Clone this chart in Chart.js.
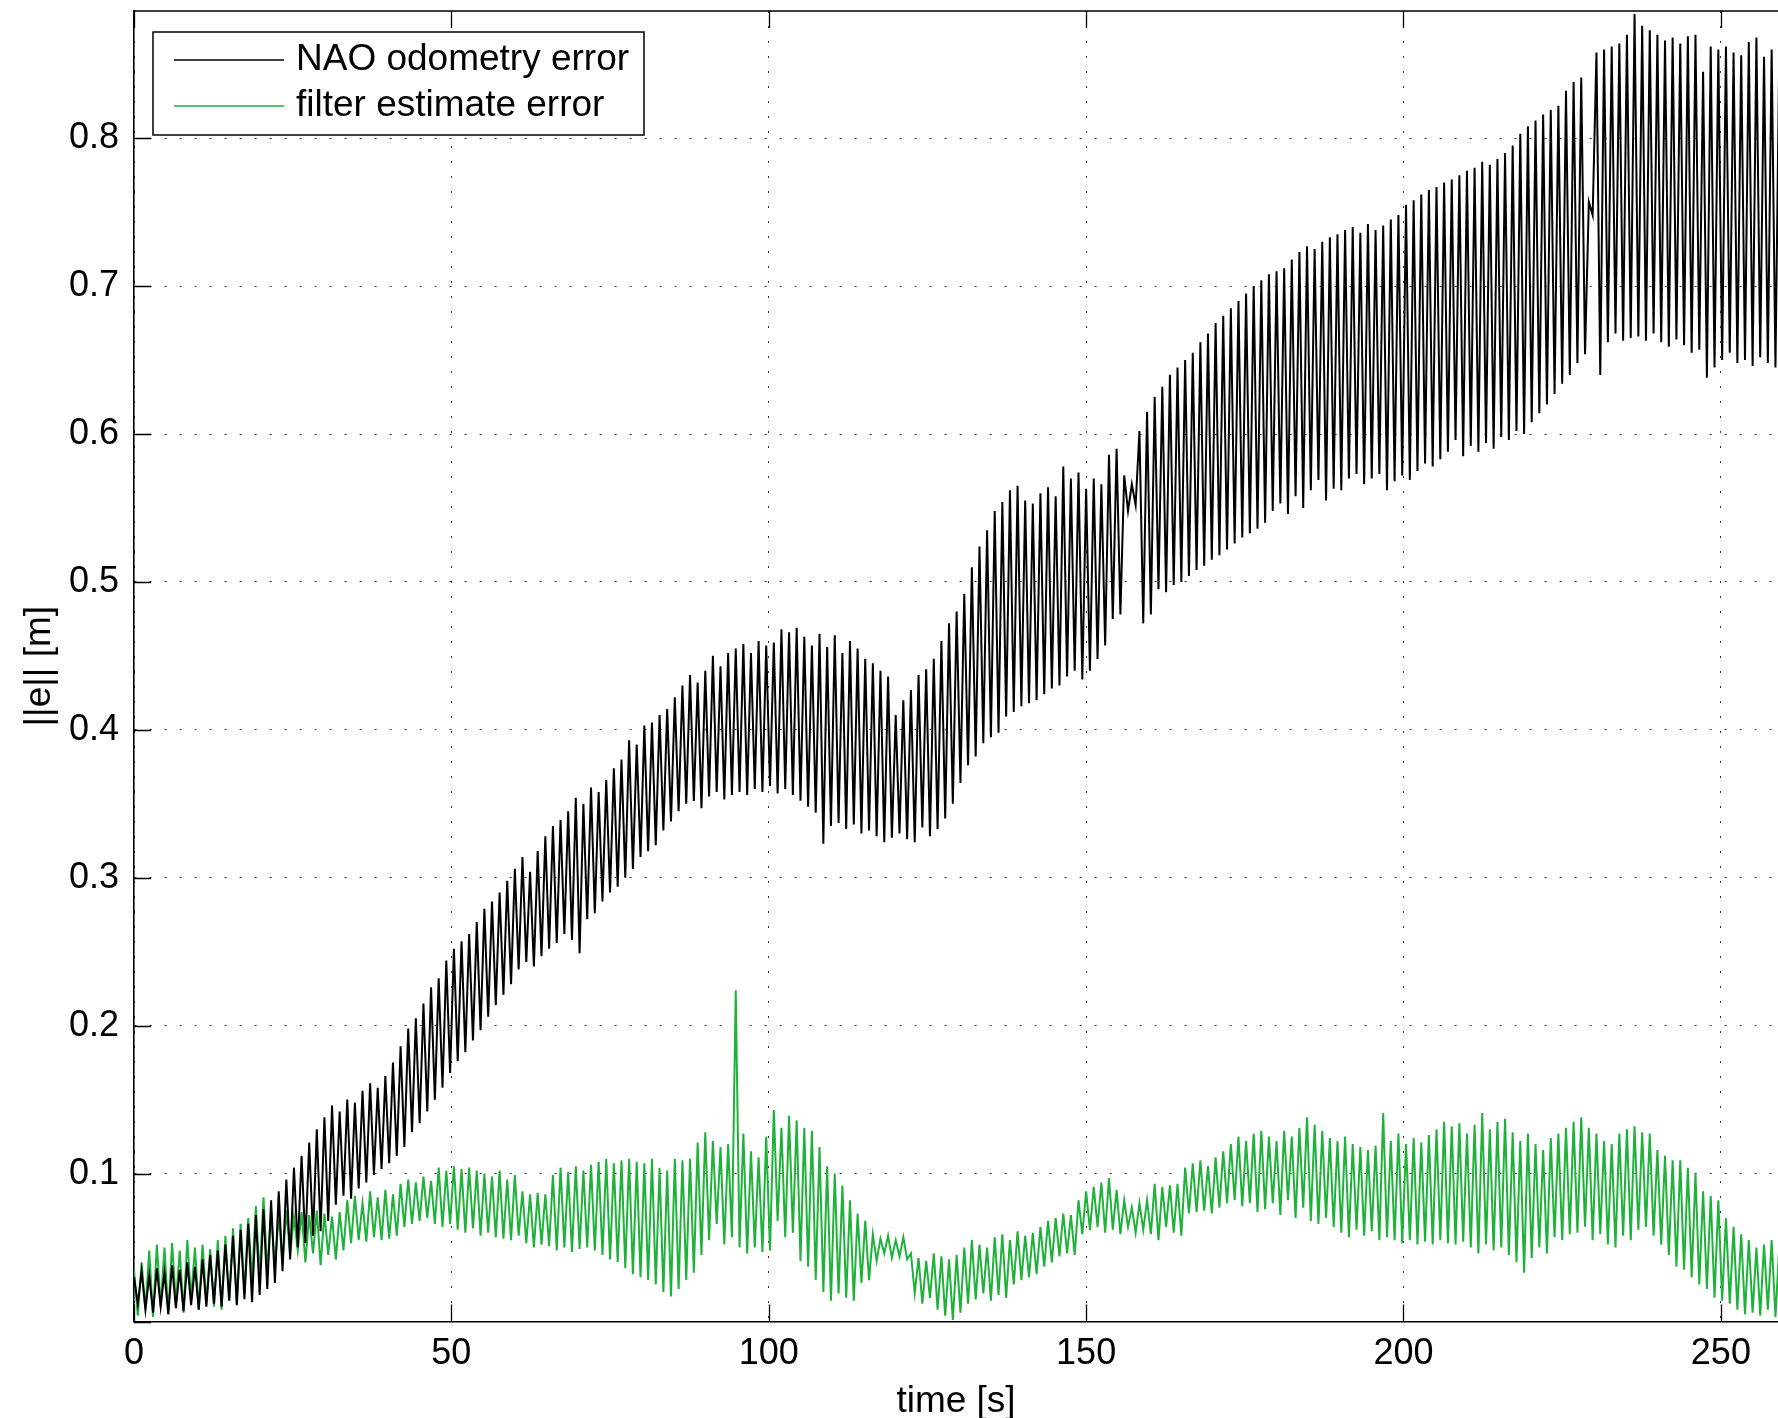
<!DOCTYPE html>
<html>
<head>
<meta charset="utf-8">
<script src="https://cdn.jsdelivr.net/npm/chart.js@4.4.1/dist/chart.umd.min.js"></script>
<style>
html,body{margin:0;padding:0;background:#fff;overflow:hidden;}
canvas{display:block;}
</style>
</head>
<body>
<canvas id="c" width="1778" height="1418" style="width:1778px;height:1418px"></canvas>
<script>
// ---- data, samples every DT seconds, alternating peak / trough ----
const DT = 0.6;
const seriesLabels = ['NAO odometry error', 'filter estimate error'];
const xTicksStep = 50;
const yTicksStep = 0.1;

const odometryError = [
0.030,0.012, 0.034,0.008, 0.031,0.006, 0.036,0.010, 0.033,0.005, 0.038,0.009, 0.035,0.007, 0.040,0.011, 0.037,0.008, 0.042,0.010,
0.045,0.012, 0.048,0.010, 0.052,0.014, 0.058,0.011, 0.062,0.015, 0.066,0.013, 0.072,0.018, 0.076,0.022, 0.082,0.026, 0.088,0.034,
0.096,0.042, 0.104,0.050, 0.112,0.053, 0.121,0.058, 0.130,0.061, 0.138,0.068, 0.146,0.079, 0.142,0.085, 0.150,0.083, 0.148,0.090,
0.156,0.094, 0.161,0.099, 0.158,0.103, 0.166,0.107, 0.175,0.112, 0.186,0.118, 0.198,0.128, 0.205,0.134, 0.215,0.142, 0.226,0.150,
0.232,0.158, 0.244,0.168, 0.252,0.176, 0.257,0.182, 0.262,0.190, 0.270,0.197, 0.279,0.206, 0.284,0.214, 0.290,0.221, 0.298,0.228,
0.306,0.238, 0.314,0.243, 0.304,0.240, 0.318,0.247, 0.328,0.252, 0.335,0.256, 0.339,0.262, 0.345,0.258, 0.354,0.249, 0.350,0.272,
0.361,0.276, 0.358,0.284, 0.366,0.290, 0.374,0.294, 0.380,0.300, 0.393,0.306, 0.390,0.314, 0.403,0.318, 0.405,0.322, 0.410,0.332,
0.414,0.338, 0.422,0.345, 0.430,0.350, 0.437,0.352, 0.432,0.347, 0.440,0.355, 0.450,0.358, 0.443,0.353, 0.452,0.356, 0.455,0.358,
0.458,0.356, 0.452,0.360, 0.460,0.358, 0.457,0.362, 0.459,0.357, 0.468,0.360, 0.466,0.356, 0.469,0.352, 0.463,0.348, 0.457,0.344,
0.465,0.323, 0.456,0.335, 0.464,0.337, 0.452,0.333, 0.460,0.336, 0.455,0.330, 0.448,0.332, 0.445,0.328, 0.440,0.324, 0.436,0.327,
0.410,0.330, 0.420,0.326, 0.427,0.324, 0.437,0.334, 0.441,0.328, 0.448,0.333, 0.460,0.340, 0.472,0.350, 0.480,0.364, 0.492,0.376,
0.510,0.382, 0.524,0.391, 0.535,0.395, 0.548,0.398, 0.554,0.409, 0.562,0.412, 0.565,0.416, 0.555,0.418, 0.553,0.420, 0.560,0.424,
0.564,0.428, 0.558,0.430, 0.578,0.436, 0.570,0.440, 0.574,0.434, 0.563,0.440, 0.570,0.448, 0.566,0.457, 0.586,0.475, 0.590,0.478,
0.572,0.548, 0.566,0.552, 0.602,0.472, 0.615,0.478, 0.625,0.495, 0.632,0.493, 0.640,0.498, 0.645,0.500, 0.650,0.504, 0.655,0.508,
0.662,0.511, 0.668,0.515, 0.675,0.518, 0.680,0.522, 0.685,0.526, 0.690,0.530, 0.695,0.533, 0.700,0.536, 0.704,0.540, 0.708,0.548,
0.710,0.553, 0.712,0.546, 0.718,0.558, 0.723,0.550, 0.727,0.562, 0.725,0.569, 0.730,0.555, 0.733,0.563, 0.735,0.562, 0.738,0.570,
0.740,0.573, 0.736,0.566, 0.742,0.570, 0.738,0.573, 0.741,0.562, 0.745,0.568, 0.748,0.572, 0.755,0.569, 0.758,0.575, 0.762,0.580,
0.765,0.578, 0.767,0.583, 0.770,0.588, 0.772,0.596, 0.775,0.585, 0.778,0.592, 0.780,0.588, 0.784,0.594, 0.782,0.590, 0.786,0.598,
0.790,0.596, 0.795,0.602, 0.803,0.600, 0.808,0.608, 0.812,0.614, 0.816,0.620, 0.819,0.627, 0.822,0.634, 0.832,0.640, 0.838,0.648,
0.841,0.654, 0.757,0.748, 0.858,0.640, 0.860,0.662, 0.862,0.668, 0.864,0.663, 0.870,0.665, 0.884,0.666, 0.876,0.663, 0.873,0.668,
0.870,0.662, 0.866,0.659, 0.868,0.664, 0.864,0.660, 0.869,0.655, 0.870,0.657, 0.845,0.638, 0.862,0.645, 0.860,0.650, 0.862,0.655,
0.858,0.648, 0.856,0.650, 0.865,0.646, 0.868,0.652, 0.855,0.648, 0.860,0.645, 0.858,0.650
];

const filterError = [
0.035,0.004, 0.040,0.008, 0.048,0.003, 0.052,0.010, 0.050,0.005, 0.053,0.012, 0.048,0.006, 0.055,0.015, 0.050,0.008, 0.052,0.013,
0.049,0.010, 0.055,0.008, 0.058,0.014, 0.063,0.012, 0.066,0.020, 0.070,0.028, 0.078,0.030, 0.084,0.034, 0.074,0.037, 0.072,0.040,
0.075,0.045, 0.071,0.048, 0.074,0.040, 0.072,0.046, 0.075,0.038, 0.073,0.045, 0.071,0.042, 0.074,0.048, 0.082,0.053, 0.085,0.055,
0.080,0.054, 0.088,0.057, 0.084,0.055, 0.089,0.056, 0.086,0.058, 0.093,0.064, 0.096,0.066, 0.094,0.068, 0.098,0.070, 0.095,0.066,
0.104,0.064, 0.102,0.066, 0.105,0.062, 0.103,0.060, 0.104,0.063, 0.102,0.058, 0.100,0.060, 0.098,0.057, 0.102,0.056, 0.096,0.055,
0.099,0.058, 0.088,0.053, 0.086,0.050, 0.087,0.052, 0.086,0.051, 0.099,0.048, 0.104,0.050, 0.101,0.047, 0.105,0.049, 0.102,0.050,
0.106,0.048, 0.108,0.045, 0.110,0.042, 0.107,0.040, 0.109,0.036, 0.110,0.032, 0.108,0.030, 0.107,0.028, 0.110,0.025, 0.104,0.020,
0.102,0.017, 0.110,0.022, 0.109,0.028, 0.110,0.033, 0.121,0.045, 0.128,0.055, 0.122,0.066, 0.118,0.052, 0.120,0.057, 0.224,0.050,
0.127,0.046, 0.115,0.050, 0.111,0.047, 0.125,0.048, 0.143,0.068, 0.131,0.057, 0.139,0.060, 0.136,0.041, 0.131,0.037, 0.129,0.028,
0.118,0.020, 0.105,0.014, 0.100,0.019, 0.092,0.016, 0.082,0.014, 0.073,0.026, 0.068,0.028, 0.059,0.041, 0.056,0.046, 0.058,0.043,
0.055,0.044, 0.057,0.042, 0.046,0.019, 0.043,0.012, 0.041,0.016, 0.046,0.008, 0.044,0.004, 0.042,0.001, 0.045,0.006, 0.050,0.012,
0.055,0.015, 0.052,0.019, 0.050,0.014, 0.057,0.018, 0.059,0.016, 0.055,0.025, 0.061,0.028, 0.058,0.030, 0.060,0.032, 0.064,0.037,
0.068,0.040, 0.070,0.044, 0.073,0.046, 0.072,0.045, 0.082,0.059, 0.088,0.062, 0.091,0.064, 0.094,0.060, 0.097,0.062, 0.089,0.059,
0.082,0.064, 0.077,0.060, 0.080,0.062, 0.082,0.059, 0.093,0.055, 0.091,0.064, 0.092,0.060, 0.093,0.058, 0.104,0.073, 0.107,0.074,
0.109,0.075, 0.105,0.073, 0.111,0.077, 0.115,0.080, 0.120,0.082, 0.125,0.078, 0.122,0.080, 0.127,0.074, 0.129,0.076, 0.125,0.080,
0.122,0.072, 0.129,0.082, 0.125,0.070, 0.131,0.077, 0.138,0.068, 0.133,0.066, 0.129,0.070, 0.124,0.064, 0.122,0.060, 0.125,0.057,
0.120,0.062, 0.118,0.058, 0.116,0.061, 0.119,0.055, 0.141,0.057, 0.122,0.055, 0.127,0.053, 0.120,0.055, 0.124,0.052, 0.121,0.054,
0.126,0.052, 0.130,0.055, 0.135,0.053, 0.132,0.052, 0.134,0.054, 0.127,0.050, 0.133,0.046, 0.141,0.052, 0.130,0.048, 0.135,0.050,
0.137,0.045, 0.128,0.040, 0.122,0.033, 0.127,0.043, 0.120,0.050, 0.116,0.046, 0.124,0.057, 0.127,0.055, 0.131,0.059, 0.135,0.060,
0.138,0.064, 0.131,0.055, 0.127,0.059, 0.122,0.052, 0.120,0.050, 0.127,0.058, 0.130,0.055, 0.132,0.062, 0.128,0.064, 0.127,0.058,
0.116,0.052, 0.112,0.045, 0.109,0.037, 0.109,0.035, 0.104,0.030, 0.100,0.025, 0.088,0.022, 0.085,0.016, 0.082,0.014, 0.070,0.012,
0.064,0.008, 0.059,0.005, 0.055,0.006, 0.050,0.004, 0.052,0.008, 0.055,0.003, 0.051,0.006
];

const xRange = [0, 259];
const yRange = [0, 0.886];

// ---- rendering ----
const FONT = "'Liberation Sans', Arial, Helvetica, sans-serif";
const toXY = arr => arr.map((v, i) => ({ x: i * DT, y: v }));

const framePlugin = {
  id: 'frame',
  afterDatasetsDraw(chart) {
    const { ctx, chartArea: a, scales: { x, y } } = chart;
    ctx.save();
    ctx.strokeStyle = '#000';
    ctx.lineWidth = 1.3;
    ctx.beginPath();
    x.ticks.forEach(t => {
      const px = Math.round(x.getPixelForValue(t.value)) + 0.5;
      ctx.moveTo(px, a.bottom); ctx.lineTo(px, a.bottom - 17);
      ctx.moveTo(px, a.top); ctx.lineTo(px, a.top + 17);
    });
    y.ticks.forEach(t => {
      const py = Math.round(y.getPixelForValue(t.value)) + 0.5;
      ctx.moveTo(a.left, py); ctx.lineTo(a.left + 17, py);
    });
    ctx.stroke();
    ctx.lineWidth = 1.6;
    ctx.beginPath();
    ctx.moveTo(a.left, a.top); ctx.lineTo(a.right, a.top);
    ctx.stroke();
    ctx.restore();
  },
  afterDraw(chart) {
    const { ctx, chartArea: a } = chart;
    const bx = a.left + 19, by = a.top + 21, bw = 491, bh = 103;
    ctx.save();
    ctx.fillStyle = '#fff';
    ctx.fillRect(bx, by, bw, bh);
    ctx.strokeStyle = '#000';
    ctx.lineWidth = 1.5;
    ctx.strokeRect(bx, by, bw, bh);
    ctx.font = '37px ' + FONT;
    ctx.textBaseline = 'middle';
    ctx.textAlign = 'left';
    chart.data.datasets.forEach((ds, i) => {
      const yy = by + 28 + i * 46;
      ctx.strokeStyle = ds.borderColor;
      ctx.lineWidth = 1.3;
      ctx.beginPath();
      ctx.moveTo(bx + 21, yy); ctx.lineTo(bx + 131, yy);
      ctx.stroke();
      ctx.fillStyle = '#000';
      ctx.fillText(ds.label, bx + 143, yy);
    });
    ctx.restore();
  }
};

new Chart(document.getElementById('c'), {
  type: 'line',
  data: {
    datasets: [
      { label: seriesLabels[0], data: toXY(odometryError), borderColor: '#000000', borderWidth: 2, pointRadius: 0, tension: 0, fill: false },
      { label: seriesLabels[1], data: toXY(filterError), borderColor: '#1fb23a', borderWidth: 2, pointRadius: 0, tension: 0, fill: false }
    ]
  },
  options: {
    responsive: false,
    animation: false,
    devicePixelRatio: 1,
    layout: { padding: { top: 11, right: 0, left: 0, bottom: 0 } },
    plugins: { legend: { display: false }, tooltip: { enabled: false } },
    scales: {
      x: {
        type: 'linear',
        min: xRange[0], max: xRange[1],
        afterFit(s) { s.height = 96.5; s.paddingLeft = 0; s.paddingRight = 0; },
        ticks: {
          stepSize: xTicksStep, includeBounds: false, padding: 11, color: '#000',
          font: { family: FONT, size: 36 },
          maxRotation: 0
        },
        grid: { color: 'rgba(0,0,0,0.8)', lineWidth: 1, drawTicks: false },
        border: { display: true, color: '#000', width: 1.6, dash: [2, 13] },
        title: { display: true, text: 'time [s]', color: '#000', font: { family: FONT, size: 37, lineHeight: 0.8 }, padding: { top: 0, bottom: 1.5 } }
      },
      y: {
        type: 'linear',
        min: yRange[0], max: yRange[1],
        afterFit(s) { s.width = 134; s.paddingTop = 0; s.paddingBottom = 0; },
        ticks: {
          stepSize: yTicksStep, includeBounds: false, padding: 15, color: '#000',
          font: { family: FONT, size: 36 },
          callback: v => Math.abs(v) < 1e-9 ? '' : v.toFixed(1)
        },
        grid: { color: 'rgba(0,0,0,0.8)', lineWidth: 1, drawTicks: false },
        border: { display: true, color: '#000', width: 1.6, dash: [2, 13] },
        title: { display: true, text: '||e|| [m]', color: '#000', font: { family: FONT, size: 37, lineHeight: 1 }, padding: { top: 21.5, bottom: 0 } }
      }
    }
  },
  plugins: [framePlugin]
});
</script>
</body>
</html>
